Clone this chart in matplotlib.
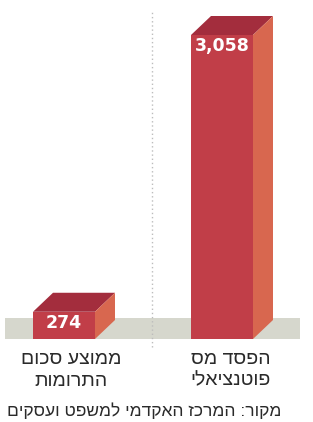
import matplotlib
matplotlib.use('Agg')
import matplotlib.pyplot as plt
from matplotlib.patches import Polygon, Rectangle

plt.rcParams['font.family'] = ['Liberation Sans', 'DejaVu Sans']

# data
categories = [['ממוצע סכום', 'התרומות'], ['הפסד מס', 'פוטנציאלי']]
values = [274, 3058]
value_labels = ['274', '3,058']
source = 'מקור: המרכז האקדמי למשפט ועסקים'

W, H = 313, 422
fig = plt.figure(figsize=(W / 100, H / 100), dpi=100)
ax = fig.add_axes([0, 0, 1, 1])

# pixel layout of the original graphic
base_px = 339           # ground line
top_px = 35             # top of tallest bar
s = (base_px - top_px) / max(values)   # px per unit
ax.set_xlim(0, W)
ax.set_ylim(-(H - base_px) / s, base_px / s)
ax.axis('off')

def py(p):
    # pixel row -> data y
    return (base_px - p) / s

front_c = '#c13e48'
top_c = '#a32d3d'
side_c = '#d8674f'
band_c = '#d6d7cd'

# ground band
ax.add_patch(Rectangle((5, 0), 295, 21 / s, color=band_c, zorder=1, lw=0))

# dotted separator
ax.plot([152, 152], [py(347), py(10)], ls=(0, (1, 2)),
        color='#bdbdbd', lw=1, zorder=2)

lefts = [33, 191]
bw = 62
dx, dy = 20, 19 / s

for x0, v, lab in zip(lefts, values, value_labels):
    x1 = x0 + bw
    ax.add_patch(Rectangle((x0, 0), bw, v, color=front_c, lw=0, zorder=3))
    ax.add_patch(Polygon([(x0, v), (x1, v), (x1 + dx, v + dy), (x0 + dx, v + dy)],
                         closed=True, color=top_c, lw=0, zorder=3))
    ax.add_patch(Polygon([(x1, 0), (x1 + dx, dy), (x1 + dx, v + dy), (x1, v)],
                         closed=True, color=side_c, lw=0, zorder=3))
    ax.text(x0 + bw / 2, v - 2 / s, lab, ha='center', va='top', color='white',
            fontsize=12.5, fontweight='bold', zorder=4,
            family=['DejaVu Sans'])

# category names (hebrew, reversed for left-to-right drawing)
centers = [71, 231]
for c, lines in zip(centers, categories):
    for i, line in enumerate(lines):
        ax.text(c, py(360 + 21 * i), line[::-1], ha='center', va='center',
                fontsize=14, color='#2a2a2a')

ax.text(144, py(411), source[::-1], ha='center', va='center',
        fontsize=12.5, color='#2a2a2a')

fig.savefig('out.png', dpi=100, facecolor='white')
